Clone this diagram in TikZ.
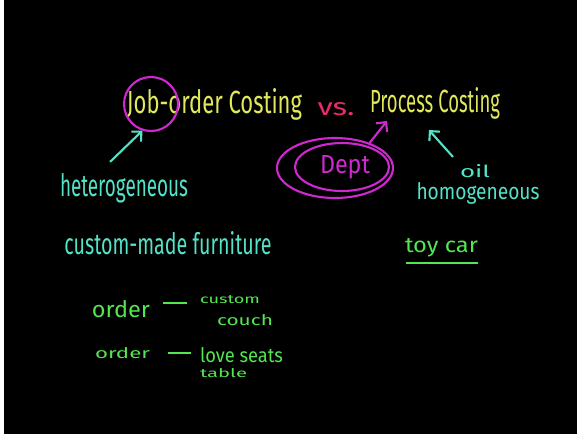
\documentclass[tikz,border=0pt]{standalone}
\usepackage{fontspec}
\setsansfont{Fira Sans}
\usetikzlibrary{arrows.meta,shapes.geometric}
\definecolor{chalkyellow}{RGB}{226,232,92}
\definecolor{chalkred}{RGB}{232,44,104}
\definecolor{chalkpink}{RGB}{208,40,208}
\definecolor{chalkcyan}{RGB}{84,226,200}
\definecolor{chalkgreen}{RGB}{84,230,80}
\newlength\pxlen
\setlength\pxlen{0.02cm}
\newcommand{\Scrawl}[3]{\resizebox{#1\pxlen}{#2\pxlen}{\sffamily #3}}
\tikzset{scrawl/.style={inner sep=0pt,anchor=base,text=#1}}
\begin{document}
\begin{tikzpicture}[x=0.02cm,y=-0.02cm,>={Straight Barb[length=4pt,width=8pt]},line width=1.2pt]
  \fill[black](0,0)rectangle(577,434);
  \fill[white](0,0)rectangle(4,434);
  \useasboundingbox(0,0)rectangle(577,434);
  \node[scrawl=chalkyellow](job)at(214.5,113){\Scrawl{175}{25}{Job-order Costing}};
  \node[scrawl=chalkred](vs)at(336,115){\Scrawl{37}{13}{vs.}};
  \node[scrawl=chalkyellow](process)at(435,112){\Scrawl{130}{25}{Process Costing}};
  \node[scrawl=chalkcyan](hetero)at(124,196){\Scrawl{128}{23}{heterogeneous}};
  \node[scrawl=chalkcyan](furniture)at(168,254){\Scrawl{207}{23}{custom-made furniture}};
  \node[scrawl=chalkpink](dept)at(345,173){\Scrawl{50}{18}{Dept}};
  \node[scrawl=chalkcyan](oil)at(475,177){\Scrawl{30}{13}{oil}};
  \node[scrawl=chalkcyan](homog)at(478,199){\Scrawl{123}{17}{homogeneous}};
  \node[scrawl=chalkgreen](toycar)at(441.5,252){\Scrawl{73}{14}{toy car}};
  \node[scrawl=chalkgreen](order1)at(121,317){\Scrawl{58}{17}{order}};
  \node[scrawl=chalkgreen](custom)at(230,303){\Scrawl{60}{8}{custom}};
  \node[scrawl=chalkgreen](couch)at(245,325){\Scrawl{56}{11}{couch}};
  \node[scrawl=chalkgreen](order2)at(122.5,358){\Scrawl{55}{11}{order}};
  \node[scrawl=chalkgreen](love)at(241.5,362){\Scrawl{83}{15}{love seats}};
  \node[scrawl=chalkgreen](table)at(223.5,377){\Scrawl{47}{9}{table}};
  \node[circle,draw=chalkpink,inner sep=0pt,minimum size=1.08cm](jobring)at(151,104){};
  \node[ellipse,draw=chalkpink,inner sep=0pt,minimum width=2.32cm,minimum height=1.2cm](outer)at(335,168){};
  \node[ellipse,draw=chalkpink,inner sep=0pt,minimum width=1.88cm,minimum height=0.96cm](inner)at(342,167){};
  \draw[->,chalkcyan]([shift={(-14,-10)}]hetero.north)--(jobring.-108);
  \draw[->,chalkpink](outer.36)--([shift={(18,9)}]process.base west);
  \draw[->,chalkcyan]([shift={(-22,-6)}]oil.north)--([shift={(60,18)}]process.base west);
  \draw[chalkgreen]([shift={(2,11)}]toycar.base west)--([shift={(-1,11)}]toycar.base east);
  \draw[chalkgreen]([shift={(12,-14)}]order1.base east)--([shift={(-12,0)}]custom.base west);
  \draw[chalkgreen]([shift={(17,-5)}]order2.base east)--([shift={(-8,-9)}]love.base west);
\end{tikzpicture}
\end{document}
